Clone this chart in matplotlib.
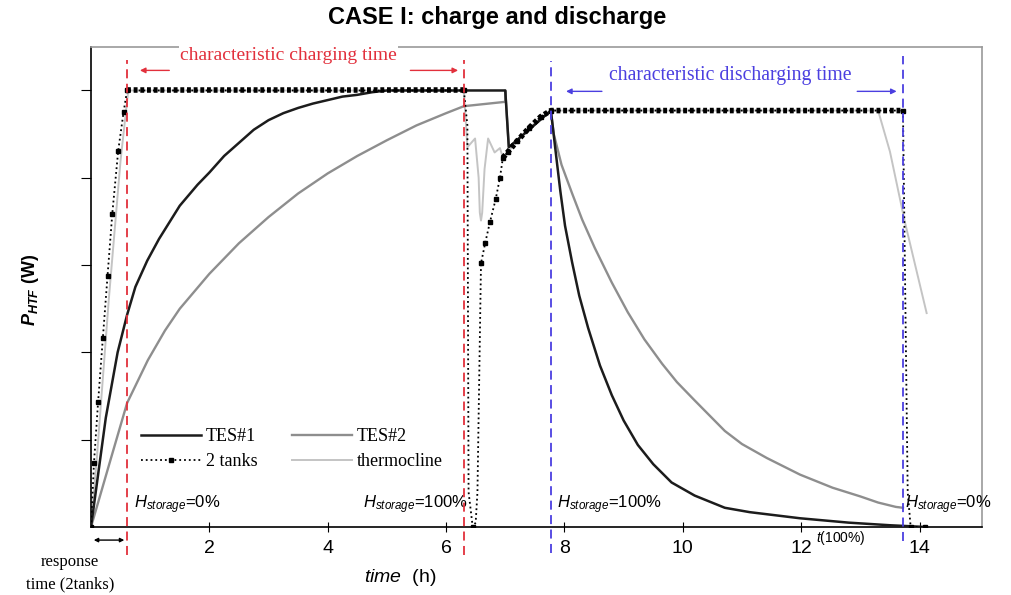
import matplotlib
matplotlib.use('Agg')
import matplotlib.pyplot as plt

plt.rcParams['font.family'] = ['Liberation Sans', 'DejaVu Sans']
plt.rcParams['mathtext.fontset'] = 'custom'
plt.rcParams['mathtext.rm'] = 'Liberation Sans'
plt.rcParams['mathtext.it'] = 'Liberation Sans:italic'
plt.rcParams['mathtext.bf'] = 'Liberation Sans:bold'
plt.rcParams['mathtext.bfit'] = 'Liberation Sans:italic:bold'

# values (time in h, power in tick units)
tes1_t = [0, 0.1, 0.25, 0.45, 0.61, 0.75, 0.95, 1.15, 1.5, 1.8, 2.0, 2.25, 2.5, 2.75, 3.0, 3.25, 3.5,
          3.75, 4.0, 4.25, 4.5, 4.75, 5.0, 7.0, 7.06, 7.4, 7.77,
          7.8, 7.86, 7.93, 8.01, 8.13, 8.25, 8.40, 8.6, 8.80, 9.0, 9.24, 9.5, 9.81, 10.2, 10.71, 11.13,
          11.98, 12.8, 13.5, 14.1]
tes1_p = [0, 0.5, 1.25, 2.0, 2.43, 2.75, 3.05, 3.3, 3.68, 3.92, 4.06, 4.25, 4.4, 4.55, 4.66, 4.74, 4.8,
          4.85, 4.89, 4.93, 4.95, 4.98, 5.0, 5.0, 4.35, 4.55, 4.77,
          4.6, 4.25, 3.85, 3.45, 3.03, 2.65, 2.28, 1.85, 1.51, 1.22, 0.94, 0.72, 0.51, 0.36, 0.22, 0.17,
          0.1, 0.05, 0.02, 0.0]

tes2_t = [0, 0.3, 0.61, 0.96, 1.25, 1.5, 2.0, 2.5, 3.0, 3.5, 4.0, 4.5, 5.0, 5.5, 6.0, 6.3, 7.0, 7.0, 7.06,
          7.4, 7.77, 7.82, 7.95, 8.13, 8.3, 8.51, 8.8, 9.07, 9.35, 9.65, 9.9, 10.2, 10.71, 11.0, 11.42,
          11.98, 12.53, 13.0, 13.3, 13.6, 13.72]
tes2_p = [0, 0.7, 1.42, 1.91, 2.25, 2.5, 2.9, 3.25, 3.55, 3.82, 4.05, 4.25, 4.43, 4.6, 4.74, 4.82, 4.87,
          5.0, 4.35, 4.55, 4.77, 4.5, 4.15, 3.82, 3.52, 3.2, 2.8, 2.46, 2.15, 1.87, 1.66, 1.45, 1.1,
          0.95, 0.79, 0.6, 0.45, 0.35, 0.28, 0.23, 0.22]

tank_t = [0, 0.05, 0.12, 0.2, 0.28, 0.36, 0.46, 0.55, 0.61, 6.3, 6.36, 6.38, 6.45, 6.5, 6.53, 6.59, 6.66,
          6.74, 6.84, 6.91, 6.96, 7.05, 7.2, 7.4, 7.6, 7.77, 13.72, 13.8, 13.85, 14.1]
tank_p = [0, 0.73, 1.43, 2.16, 2.88, 3.59, 4.31, 4.75, 5.0, 5.0, 4.6, 0.4, 0.0, 0.05, 0.4, 3.02, 3.25,
          3.49, 3.76, 4.0, 4.23, 4.3, 4.42, 4.57, 4.7, 4.77, 4.77, 0.4, 0.0, 0.0]

thermo_t = [0, 0.1, 0.3, 0.5, 0.63, 6.3, 6.36, 6.49, 6.55, 6.57, 6.59, 6.61, 6.65, 6.71, 6.82, 6.91, 6.96,
            7.05, 7.4, 7.77, 13.3, 13.5, 13.75, 14.12]
thermo_p = [0, 0.8, 2.6, 4.2, 5.0, 5.0, 4.35, 4.45, 4.0, 3.6, 3.51, 3.6, 4.1, 4.45, 4.29, 4.34, 4.23,
            4.3, 4.57, 4.77, 4.77, 4.3, 3.5, 2.45]

t_charge_start = 0.61
t_charge_end = 6.3
t_dis_start = 7.77
t_dis_end = 13.72

red = '#e2303c'
blue = '#4b3fe0'
serif = 'Liberation Serif'

fig = plt.figure(figsize=(10.11, 5.95), dpi=100)
ax = fig.add_axes([0.090, 0.1143, 0.881, 0.807])

l_th, = ax.plot(thermo_t, thermo_p, color='#c4c4c4', lw=1.4, label='thermocline', zorder=2)
l_t2, = ax.plot(tes2_t, tes2_p, color='#8e8e8e', lw=1.7, label='TES#2', zorder=3)
l_t1, = ax.plot(tes1_t, tes1_p, color='#1c1c1c', lw=1.8, label='TES#1', zorder=4)
mark_idx = [i for i in range(len(tank_t)) if i not in (10, 11, 13, 14, 27)]
l_tk, = ax.plot(tank_t, tank_p, color='black', ls=':', lw=1.3, marker='s', ms=3.5,
                markevery=mark_idx, label='2 tanks', zorder=5)
# dense markers on the plateaus
ax.plot(tank_t[8:10], tank_p[8:10], color='black', lw=4, dashes=(0.7, 0.5), zorder=5)
ax.plot(tank_t[20:27], tank_p[20:27], color='black', lw=4, dashes=(0.7, 0.5), zorder=5)

ax.axvline(t_charge_start, ymin=-0.058, ymax=0.973, clip_on=False, color=red, lw=1.3, ls=(0, (5, 3)), zorder=6)
ax.axvline(t_charge_end, ymin=-0.058, ymax=0.973, clip_on=False, color=red, lw=1.3, ls=(0, (5, 3)), zorder=6)
ax.axvline(t_dis_start, ymin=-0.055, ymax=0.97, clip_on=False, color=blue, lw=1.3, ls=(0, (5, 3)), zorder=6)
ax.axvline(t_dis_end, ymin=-0.03, ymax=0.98, clip_on=False, color=blue, lw=1.3, ls=(0, (5, 3)), zorder=6)

ax.set_xlim(0, 15.05)
ax.set_ylim(0, 5.5)
ax.set_xticks([2, 4, 6, 8, 10, 12, 14])
ax.set_yticks([1, 2, 3, 4, 5])
ax.set_yticklabels([])
ax.tick_params(axis='x', direction='inout', length=7, labelsize=14, pad=6)
ax.tick_params(axis='y', direction='out', length=7)
for s in ['top', 'right']:
    ax.spines[s].set_color('#9a9a9a')
for s in ax.spines.values():
    s.set_linewidth(1.2)

# arrows and labels for the characteristic times
arr_r = dict(arrowstyle='-|>', color=red, lw=1, mutation_scale=8)
ax.annotate('', xy=(0.78, 5.23), xytext=(1.37, 5.23), arrowprops=arr_r, annotation_clip=False)
ax.annotate('', xy=(6.25, 5.23), xytext=(5.35, 5.23), arrowprops=arr_r, annotation_clip=False)
ax.text(3.34, 5.40, 'characteristic charging time', color=red, fontsize=14, family=serif,
        ha='center', va='center', bbox=dict(facecolor='white', edgecolor='none', pad=1), zorder=7)
arr_b = dict(arrowstyle='-|>', color=blue, lw=1, mutation_scale=8)
ax.annotate('', xy=(7.98, 4.99), xytext=(8.68, 4.99), arrowprops=arr_b, annotation_clip=False)
ax.annotate('', xy=(13.66, 4.99), xytext=(12.9, 4.99), arrowprops=arr_b, annotation_clip=False)
ax.text(10.8, 5.17, 'characteristic discharging time', color=blue, fontsize=14.2, family=serif,
        ha='center', va='center')

ax.text(0.72, 0.25, r'$H_{storage}$=0%', fontsize=12, ha='left', va='center')
ax.text(4.6, 0.25, r'$H_{storage}$=100%', fontsize=12, ha='left', va='center')
ax.text(7.88, 0.25, r'$H_{storage}$=100%', fontsize=12, ha='left', va='center')
ax.text(13.76, 0.25, r'$H_{storage}$=0%', fontsize=12, ha='left', va='center')
ax.text(12.25, -0.13, r'$t$(100%)', fontsize=10, ha='left', va='center')

ax.annotate('', xy=(0, -0.15), xytext=(t_charge_start, -0.15),
            arrowprops=dict(arrowstyle='<|-|>', color='black', lw=1, mutation_scale=6),
            annotation_clip=False)

ax.legend(handles=[l_t1, l_tk, l_t2, l_th], loc='upper left', bbox_to_anchor=(0.038, 0.24),
          ncol=2, frameon=False, prop={'family': serif, 'size': 13}, handlelength=3.3,
          handletextpad=0.3, columnspacing=1.9, labelspacing=0.45)

fig.text(0.492, 0.970, 'CASE I: charge and discharge', fontsize=17, fontweight='bold',
         ha='center', va='center')
fig.text(0.030, 0.513, r'$\mathbfit{P}_{\mathbfit{HTF}}$ (W)', fontsize=13, fontweight='bold',
         rotation=90, ha='center', va='center')
fig.text(0.396, 0.029, r'$\mathit{time}$  (h)', fontsize=14, ha='center', va='center')
fig.text(0.069, 0.037, 'response\ntime (2tanks)', fontsize=12, family=serif,
         ha='center', va='center', linespacing=1.5)

fig.savefig('out.png', dpi=100)
